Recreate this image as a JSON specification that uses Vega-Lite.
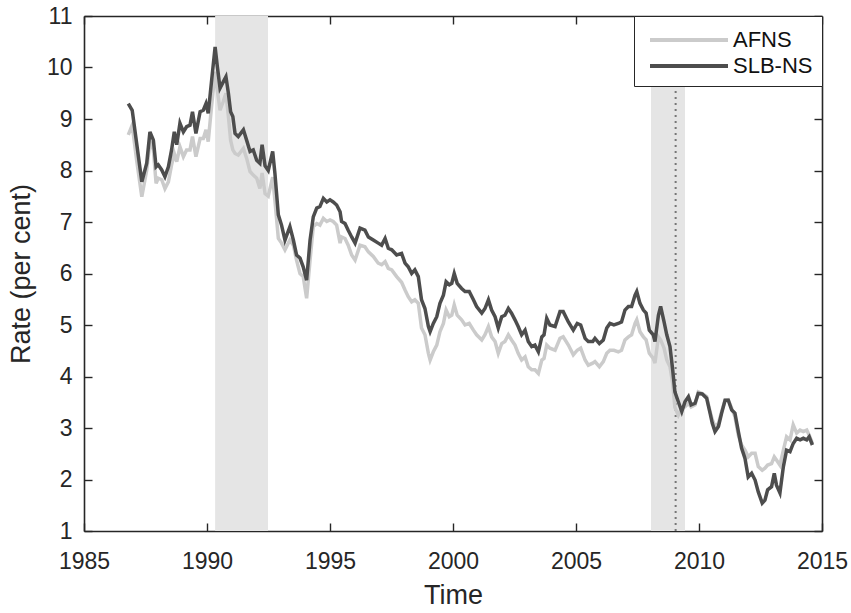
{
  "$schema": "https://vega.github.io/schema/vega-lite/v6.json",
  "width": 738,
  "height": 515,
  "autosize": {"type": "none"},
  "padding": {"left": 84, "top": 16, "right": 29, "bottom": 82},
  "config": {
    "font": "Liberation Sans",
    "view": {"stroke": null},
    "axis": {
      "domainColor": "#262626",
      "domainWidth": 1.6,
      "tickColor": "#262626",
      "tickWidth": 1.4,
      "tickSize": -8,
      "grid": false,
      "labelFont": "Liberation Sans",
      "labelFontSize": 23,
      "labelColor": "#262626",
      "titleFont": "Liberation Sans",
      "titleFontSize": 27,
      "titleFontWeight": "normal",
      "titleColor": "#262626"
    }
  },
  "datasets": {
    "shade": [
      {"start": 1990.33, "end": 1992.48},
      {"start": 2008.05, "end": 2009.43}
    ],
    "marker": [{"t": 2009.05}],
    "rates": [
      {"t": 1986.80, "AFNS": 8.69, "SLB-NS": 9.30},
      {"t": 1986.96, "AFNS": 8.88, "SLB-NS": 9.17},
      {"t": 1987.14, "AFNS": 8.20, "SLB-NS": 8.53},
      {"t": 1987.35, "AFNS": 7.49, "SLB-NS": 7.78},
      {"t": 1987.55, "AFNS": 8.01, "SLB-NS": 8.14},
      {"t": 1987.68, "AFNS": 8.56, "SLB-NS": 8.75},
      {"t": 1987.82, "AFNS": 8.40, "SLB-NS": 8.59},
      {"t": 1987.93, "AFNS": 7.75, "SLB-NS": 8.07},
      {"t": 1988.02, "AFNS": 7.85, "SLB-NS": 8.11},
      {"t": 1988.16, "AFNS": 7.82, "SLB-NS": 8.01},
      {"t": 1988.29, "AFNS": 7.65, "SLB-NS": 7.88},
      {"t": 1988.43, "AFNS": 7.78, "SLB-NS": 8.07},
      {"t": 1988.56, "AFNS": 8.11, "SLB-NS": 8.40},
      {"t": 1988.67, "AFNS": 8.33, "SLB-NS": 8.75},
      {"t": 1988.77, "AFNS": 8.17, "SLB-NS": 8.50},
      {"t": 1988.90, "AFNS": 8.46, "SLB-NS": 8.92},
      {"t": 1989.04, "AFNS": 8.27, "SLB-NS": 8.75},
      {"t": 1989.17, "AFNS": 8.40, "SLB-NS": 8.85},
      {"t": 1989.31, "AFNS": 8.40, "SLB-NS": 8.88},
      {"t": 1989.41, "AFNS": 8.66, "SLB-NS": 9.14},
      {"t": 1989.55, "AFNS": 8.27, "SLB-NS": 8.72},
      {"t": 1989.72, "AFNS": 8.62, "SLB-NS": 9.14},
      {"t": 1989.85, "AFNS": 8.62, "SLB-NS": 9.17},
      {"t": 1989.96, "AFNS": 8.79, "SLB-NS": 9.30},
      {"t": 1990.05, "AFNS": 8.56, "SLB-NS": 9.11},
      {"t": 1990.19, "AFNS": 9.27, "SLB-NS": 9.76},
      {"t": 1990.33, "AFNS": 9.92, "SLB-NS": 10.40},
      {"t": 1990.42, "AFNS": 9.56, "SLB-NS": 10.02},
      {"t": 1990.53, "AFNS": 9.17, "SLB-NS": 9.60},
      {"t": 1990.66, "AFNS": 9.34, "SLB-NS": 9.72},
      {"t": 1990.77, "AFNS": 9.50, "SLB-NS": 9.82},
      {"t": 1990.87, "AFNS": 9.05, "SLB-NS": 9.50},
      {"t": 1990.96, "AFNS": 8.59, "SLB-NS": 9.14},
      {"t": 1991.05, "AFNS": 8.40, "SLB-NS": 9.05},
      {"t": 1991.14, "AFNS": 8.33, "SLB-NS": 8.72},
      {"t": 1991.27, "AFNS": 8.30, "SLB-NS": 8.66},
      {"t": 1991.48, "AFNS": 8.43, "SLB-NS": 8.79},
      {"t": 1991.61, "AFNS": 8.24, "SLB-NS": 8.59},
      {"t": 1991.75, "AFNS": 7.98, "SLB-NS": 8.37},
      {"t": 1991.88, "AFNS": 7.91, "SLB-NS": 8.40},
      {"t": 1992.02, "AFNS": 7.85, "SLB-NS": 8.20},
      {"t": 1992.15, "AFNS": 7.65, "SLB-NS": 8.14},
      {"t": 1992.24, "AFNS": 7.95, "SLB-NS": 8.50},
      {"t": 1992.36, "AFNS": 7.55, "SLB-NS": 8.09},
      {"t": 1992.49, "AFNS": 7.50, "SLB-NS": 8.00},
      {"t": 1992.67, "AFNS": 7.87, "SLB-NS": 8.37},
      {"t": 1992.76, "AFNS": 7.42, "SLB-NS": 7.95},
      {"t": 1992.90, "AFNS": 6.68, "SLB-NS": 7.14},
      {"t": 1993.03, "AFNS": 6.59, "SLB-NS": 6.94},
      {"t": 1993.17, "AFNS": 6.46, "SLB-NS": 6.65},
      {"t": 1993.37, "AFNS": 6.65, "SLB-NS": 6.91},
      {"t": 1993.51, "AFNS": 6.55, "SLB-NS": 6.65},
      {"t": 1993.64, "AFNS": 6.26, "SLB-NS": 6.36},
      {"t": 1993.78, "AFNS": 6.00, "SLB-NS": 6.30},
      {"t": 1993.91, "AFNS": 5.94, "SLB-NS": 6.13},
      {"t": 1994.05, "AFNS": 5.52, "SLB-NS": 5.87},
      {"t": 1994.19, "AFNS": 6.26, "SLB-NS": 6.65},
      {"t": 1994.32, "AFNS": 6.91, "SLB-NS": 7.10},
      {"t": 1994.46, "AFNS": 6.97, "SLB-NS": 7.27},
      {"t": 1994.59, "AFNS": 6.94, "SLB-NS": 7.30},
      {"t": 1994.73, "AFNS": 7.07, "SLB-NS": 7.46},
      {"t": 1994.87, "AFNS": 7.01, "SLB-NS": 7.39},
      {"t": 1995.00, "AFNS": 7.04, "SLB-NS": 7.43},
      {"t": 1995.13, "AFNS": 7.01, "SLB-NS": 7.39},
      {"t": 1995.27, "AFNS": 6.94, "SLB-NS": 7.33},
      {"t": 1995.41, "AFNS": 6.59, "SLB-NS": 7.20},
      {"t": 1995.47, "AFNS": 6.71, "SLB-NS": 7.01},
      {"t": 1995.61, "AFNS": 6.68, "SLB-NS": 6.97},
      {"t": 1995.74, "AFNS": 6.55, "SLB-NS": 6.84},
      {"t": 1995.88, "AFNS": 6.36, "SLB-NS": 6.71},
      {"t": 1996.02, "AFNS": 6.26, "SLB-NS": 6.59},
      {"t": 1996.22, "AFNS": 6.55, "SLB-NS": 6.88},
      {"t": 1996.42, "AFNS": 6.52, "SLB-NS": 6.84},
      {"t": 1996.56, "AFNS": 6.42, "SLB-NS": 6.71},
      {"t": 1996.76, "AFNS": 6.33, "SLB-NS": 6.65},
      {"t": 1996.96, "AFNS": 6.20, "SLB-NS": 6.59},
      {"t": 1997.10, "AFNS": 6.17, "SLB-NS": 6.55},
      {"t": 1997.24, "AFNS": 6.23, "SLB-NS": 6.68},
      {"t": 1997.37, "AFNS": 6.10, "SLB-NS": 6.49},
      {"t": 1997.51, "AFNS": 6.07, "SLB-NS": 6.46},
      {"t": 1997.71, "AFNS": 5.94, "SLB-NS": 6.36},
      {"t": 1997.91, "AFNS": 5.83, "SLB-NS": 6.39},
      {"t": 1998.05, "AFNS": 5.68, "SLB-NS": 6.20},
      {"t": 1998.18, "AFNS": 5.55, "SLB-NS": 6.13},
      {"t": 1998.32, "AFNS": 5.45, "SLB-NS": 6.00},
      {"t": 1998.45, "AFNS": 5.49, "SLB-NS": 6.07},
      {"t": 1998.59, "AFNS": 5.42, "SLB-NS": 5.94},
      {"t": 1998.72, "AFNS": 4.94, "SLB-NS": 5.49},
      {"t": 1998.86, "AFNS": 4.81, "SLB-NS": 5.32},
      {"t": 1999.00, "AFNS": 4.45, "SLB-NS": 4.97},
      {"t": 1999.07, "AFNS": 4.32, "SLB-NS": 4.87},
      {"t": 1999.20, "AFNS": 4.48, "SLB-NS": 5.03},
      {"t": 1999.34, "AFNS": 4.61, "SLB-NS": 5.16},
      {"t": 1999.47, "AFNS": 4.87, "SLB-NS": 5.42},
      {"t": 1999.61, "AFNS": 5.03, "SLB-NS": 5.58},
      {"t": 1999.72, "AFNS": 5.29, "SLB-NS": 5.84},
      {"t": 1999.85, "AFNS": 5.16, "SLB-NS": 5.78},
      {"t": 1999.95, "AFNS": 5.19, "SLB-NS": 5.81},
      {"t": 2000.05, "AFNS": 5.39, "SLB-NS": 6.00},
      {"t": 2000.17, "AFNS": 5.19, "SLB-NS": 5.81},
      {"t": 2000.35, "AFNS": 5.10, "SLB-NS": 5.71},
      {"t": 2000.49, "AFNS": 5.00, "SLB-NS": 5.65},
      {"t": 2000.66, "AFNS": 5.03, "SLB-NS": 5.65},
      {"t": 2000.83, "AFNS": 4.90, "SLB-NS": 5.49},
      {"t": 2000.96, "AFNS": 4.81, "SLB-NS": 5.36},
      {"t": 2001.17, "AFNS": 4.71, "SLB-NS": 5.23},
      {"t": 2001.30, "AFNS": 4.81, "SLB-NS": 5.32},
      {"t": 2001.44, "AFNS": 4.97, "SLB-NS": 5.49},
      {"t": 2001.57, "AFNS": 4.77, "SLB-NS": 5.29},
      {"t": 2001.71, "AFNS": 4.68, "SLB-NS": 5.16},
      {"t": 2001.84, "AFNS": 4.45, "SLB-NS": 4.94},
      {"t": 2001.98, "AFNS": 4.64, "SLB-NS": 5.16},
      {"t": 2002.11, "AFNS": 4.68, "SLB-NS": 5.19},
      {"t": 2002.25, "AFNS": 4.81, "SLB-NS": 5.32},
      {"t": 2002.38, "AFNS": 4.71, "SLB-NS": 5.23},
      {"t": 2002.52, "AFNS": 4.61, "SLB-NS": 5.10},
      {"t": 2002.65, "AFNS": 4.45, "SLB-NS": 4.97},
      {"t": 2002.79, "AFNS": 4.32, "SLB-NS": 4.81},
      {"t": 2002.93, "AFNS": 4.38, "SLB-NS": 4.90},
      {"t": 2003.06, "AFNS": 4.19, "SLB-NS": 4.68},
      {"t": 2003.20, "AFNS": 4.13, "SLB-NS": 4.58},
      {"t": 2003.33, "AFNS": 4.13, "SLB-NS": 4.61},
      {"t": 2003.47, "AFNS": 4.06, "SLB-NS": 4.48},
      {"t": 2003.61, "AFNS": 4.32, "SLB-NS": 4.77},
      {"t": 2003.70, "AFNS": 4.35, "SLB-NS": 4.81},
      {"t": 2003.81, "AFNS": 4.61, "SLB-NS": 5.13},
      {"t": 2003.94, "AFNS": 4.55, "SLB-NS": 5.00},
      {"t": 2004.15, "AFNS": 4.51, "SLB-NS": 4.97},
      {"t": 2004.35, "AFNS": 4.74, "SLB-NS": 5.26},
      {"t": 2004.48, "AFNS": 4.77, "SLB-NS": 5.26},
      {"t": 2004.69, "AFNS": 4.61, "SLB-NS": 5.06},
      {"t": 2004.89, "AFNS": 4.42, "SLB-NS": 4.90},
      {"t": 2005.05, "AFNS": 4.51, "SLB-NS": 5.03},
      {"t": 2005.19, "AFNS": 4.55, "SLB-NS": 5.00},
      {"t": 2005.37, "AFNS": 4.32, "SLB-NS": 4.74},
      {"t": 2005.50, "AFNS": 4.22, "SLB-NS": 4.68},
      {"t": 2005.68, "AFNS": 4.26, "SLB-NS": 4.68},
      {"t": 2005.77, "AFNS": 4.29, "SLB-NS": 4.74},
      {"t": 2005.95, "AFNS": 4.19, "SLB-NS": 4.64},
      {"t": 2006.11, "AFNS": 4.29, "SLB-NS": 4.71},
      {"t": 2006.25, "AFNS": 4.45, "SLB-NS": 4.94},
      {"t": 2006.38, "AFNS": 4.51, "SLB-NS": 5.03},
      {"t": 2006.54, "AFNS": 4.51, "SLB-NS": 5.00},
      {"t": 2006.72, "AFNS": 4.48, "SLB-NS": 5.03},
      {"t": 2006.85, "AFNS": 4.51, "SLB-NS": 5.06},
      {"t": 2006.99, "AFNS": 4.71, "SLB-NS": 5.29},
      {"t": 2007.13, "AFNS": 4.77, "SLB-NS": 5.36},
      {"t": 2007.26, "AFNS": 4.81, "SLB-NS": 5.36},
      {"t": 2007.40, "AFNS": 5.03, "SLB-NS": 5.58},
      {"t": 2007.47, "AFNS": 5.10, "SLB-NS": 5.65},
      {"t": 2007.60, "AFNS": 4.87, "SLB-NS": 5.42},
      {"t": 2007.74, "AFNS": 4.77, "SLB-NS": 5.29},
      {"t": 2007.85, "AFNS": 4.71, "SLB-NS": 5.23},
      {"t": 2007.98, "AFNS": 4.45, "SLB-NS": 4.90},
      {"t": 2008.14, "AFNS": 4.35, "SLB-NS": 4.81},
      {"t": 2008.21, "AFNS": 4.26, "SLB-NS": 4.68},
      {"t": 2008.35, "AFNS": 4.77, "SLB-NS": 5.19},
      {"t": 2008.44, "AFNS": 4.71, "SLB-NS": 5.36},
      {"t": 2008.58, "AFNS": 4.55, "SLB-NS": 5.06},
      {"t": 2008.69, "AFNS": 4.32, "SLB-NS": 4.81},
      {"t": 2008.82, "AFNS": 4.19, "SLB-NS": 4.58},
      {"t": 2008.93, "AFNS": 3.87, "SLB-NS": 4.13},
      {"t": 2009.02, "AFNS": 3.40, "SLB-NS": 3.70},
      {"t": 2009.16, "AFNS": 3.25, "SLB-NS": 3.51},
      {"t": 2009.30, "AFNS": 3.38, "SLB-NS": 3.32},
      {"t": 2009.43, "AFNS": 3.41, "SLB-NS": 3.51},
      {"t": 2009.57, "AFNS": 3.48, "SLB-NS": 3.61},
      {"t": 2009.68, "AFNS": 3.41, "SLB-NS": 3.45},
      {"t": 2009.84, "AFNS": 3.45, "SLB-NS": 3.48},
      {"t": 2009.97, "AFNS": 3.70, "SLB-NS": 3.67},
      {"t": 2010.13, "AFNS": 3.67, "SLB-NS": 3.66},
      {"t": 2010.31, "AFNS": 3.61, "SLB-NS": 3.58},
      {"t": 2010.45, "AFNS": 3.32, "SLB-NS": 3.29},
      {"t": 2010.54, "AFNS": 3.16, "SLB-NS": 3.09},
      {"t": 2010.65, "AFNS": 3.03, "SLB-NS": 2.93},
      {"t": 2010.79, "AFNS": 3.09, "SLB-NS": 3.03},
      {"t": 2010.92, "AFNS": 3.32, "SLB-NS": 3.29},
      {"t": 2011.06, "AFNS": 3.54, "SLB-NS": 3.54},
      {"t": 2011.19, "AFNS": 3.55, "SLB-NS": 3.54},
      {"t": 2011.33, "AFNS": 3.38, "SLB-NS": 3.35},
      {"t": 2011.46, "AFNS": 3.22, "SLB-NS": 3.29},
      {"t": 2011.60, "AFNS": 2.86, "SLB-NS": 2.93},
      {"t": 2011.73, "AFNS": 2.67, "SLB-NS": 2.61},
      {"t": 2011.87, "AFNS": 2.57, "SLB-NS": 2.41},
      {"t": 2012.00, "AFNS": 2.44, "SLB-NS": 2.05},
      {"t": 2012.14, "AFNS": 2.51, "SLB-NS": 2.12},
      {"t": 2012.28, "AFNS": 2.51, "SLB-NS": 1.99},
      {"t": 2012.41, "AFNS": 2.25, "SLB-NS": 1.76},
      {"t": 2012.57, "AFNS": 2.18, "SLB-NS": 1.54},
      {"t": 2012.68, "AFNS": 2.22, "SLB-NS": 1.60},
      {"t": 2012.79, "AFNS": 2.28, "SLB-NS": 1.80},
      {"t": 2012.95, "AFNS": 2.31, "SLB-NS": 1.86},
      {"t": 2013.06, "AFNS": 2.44, "SLB-NS": 2.12},
      {"t": 2013.15, "AFNS": 2.38, "SLB-NS": 1.89},
      {"t": 2013.29, "AFNS": 2.28, "SLB-NS": 1.74},
      {"t": 2013.43, "AFNS": 2.57, "SLB-NS": 2.25},
      {"t": 2013.56, "AFNS": 2.83, "SLB-NS": 2.57},
      {"t": 2013.70, "AFNS": 2.77, "SLB-NS": 2.54},
      {"t": 2013.83, "AFNS": 3.06, "SLB-NS": 2.70},
      {"t": 2013.97, "AFNS": 2.90, "SLB-NS": 2.80},
      {"t": 2014.11, "AFNS": 2.96, "SLB-NS": 2.77},
      {"t": 2014.24, "AFNS": 2.93, "SLB-NS": 2.80},
      {"t": 2014.38, "AFNS": 2.96, "SLB-NS": 2.77},
      {"t": 2014.48, "AFNS": 2.86, "SLB-NS": 2.83},
      {"t": 2014.61, "AFNS": 2.70, "SLB-NS": 2.67}
    ]
  },
  "layer": [
    {
      "data": {"name": "shade"},
      "mark": {"type": "rect", "color": "#e5e5e5"},
      "encoding": {
        "x": {
          "field": "start",
          "type": "quantitative",
          "scale": {"domain": [1985, 2015], "nice": false, "zero": false},
          "axis": {
            "orient": "bottom",
            "title": "Time",
            "values": [1985, 1990, 1995, 2000, 2005, 2010, 2015],
            "format": "d",
            "labelPadding": 27,
            "titlePadding": 9,
            "labelFlush": false
          }
        },
        "x2": {"field": "end"},
        "y": {
          "datum": 1,
          "type": "quantitative",
          "scale": {"domain": [1, 11], "nice": false, "zero": false},
          "axis": {
            "orient": "left",
            "title": "Rate (per cent)",
            "values": [1, 2, 3, 4, 5, 6, 7, 8, 9, 10, 11],
            "labelPadding": 20,
            "titlePadding": 11,
            "labelFlush": false
          }
        },
        "y2": {"datum": 11}
      }
    },
    {
      "data": {"name": "marker"},
      "mark": {"type": "rule", "color": "#777777", "strokeWidth": 2, "strokeDash": [2, 4]},
      "encoding": {
        "x": {
          "field": "t",
          "type": "quantitative",
          "axis": {
            "orient": "top",
            "title": null,
            "labels": false,
            "values": [1985, 1990, 1995, 2000, 2005, 2010, 2015]
          }
        },
        "y": {
          "datum": 1,
          "type": "quantitative",
          "axis": {
            "orient": "right",
            "title": null,
            "labels": false,
            "values": [1, 2, 3, 4, 5, 6, 7, 8, 9, 10, 11]
          }
        },
        "y2": {"datum": 11}
      }
    },
    {
      "data": {"name": "rates"},
      "transform": [{"fold": ["AFNS", "SLB-NS"], "as": ["model", "rate"]}],
      "mark": {"type": "line", "strokeWidth": 3.5},
      "encoding": {
        "x": {"field": "t", "type": "quantitative", "axis": null},
        "y": {"field": "rate", "type": "quantitative", "axis": null},
        "color": {
          "field": "model",
          "type": "nominal",
          "scale": {"domain": ["AFNS", "SLB-NS"], "range": ["#cbcbcb", "#4d4d4d"]},
          "legend": {
            "orient": "top-right",
            "offset": 0,
            "title": null,
            "padding": 9,
            "strokeColor": "#262626",
            "fillColor": "#ffffff",
            "symbolType": "M-3,0H3",
            "symbolSize": 676,
            "symbolStrokeWidth": 4,
            "symbolOffset": 31,
            "labelFont": "Liberation Sans",
            "labelFontSize": 22,
            "labelColor": "#111111",
            "labelOffset": 29,
            "rowPadding": 0
          }
        }
      }
    }
  ],
  "resolve": {"axis": {"x": "independent", "y": "independent"}}
}
